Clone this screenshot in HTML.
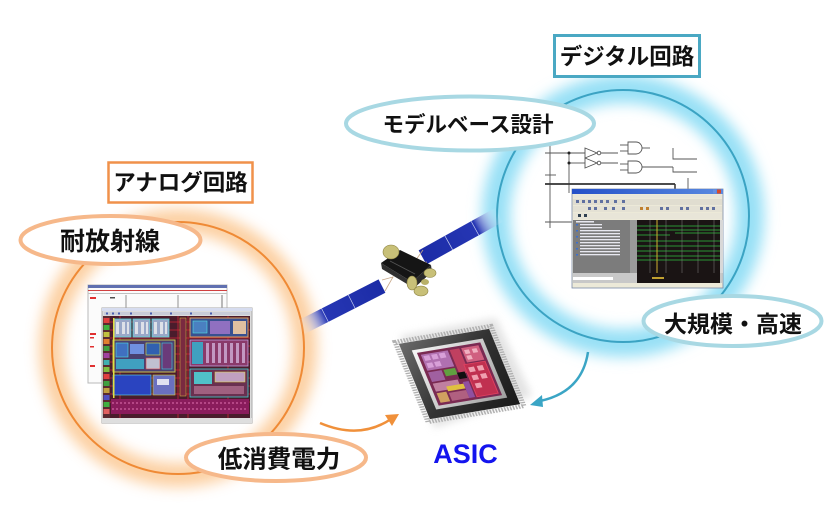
<!DOCTYPE html>
<html><head><meta charset="utf-8">
<style>
html,body{margin:0;padding:0;background:#fff;}
body{width:839px;height:517px;overflow:hidden;}
svg{display:block;}
.jp{font-family:"Liberation Sans","Noto Sans CJK JP",sans-serif;font-weight:700;fill:#111;}
</style></head>
<body>
<svg width="839" height="517" viewBox="0 0 839 517" xmlns="http://www.w3.org/2000/svg">
<defs>
  <filter id="blurO" x="-30%" y="-30%" width="160%" height="160%"><feGaussianBlur stdDeviation="7"/></filter>
  <filter id="blurC" x="-30%" y="-30%" width="160%" height="160%"><feGaussianBlur stdDeviation="7"/></filter>
  <filter id="blurS" x="-30%" y="-30%" width="160%" height="160%"><feGaussianBlur stdDeviation="4"/></filter>
  <linearGradient id="panL" x1="0" y1="0" x2="1" y2="0">
    <stop offset="0" stop-color="#ffffff" stop-opacity="0"/>
    <stop offset="0.3" stop-color="#2636b4"/>
    <stop offset="1" stop-color="#1c2ca6"/>
  </linearGradient>
  <linearGradient id="panR" x1="0" y1="0" x2="1" y2="0">
    <stop offset="0" stop-color="#1c2ca6"/>
    <stop offset="0.7" stop-color="#2636b4"/>
    <stop offset="1" stop-color="#ffffff" stop-opacity="0"/>
  </linearGradient>
  <linearGradient id="chipBody" x1="0" y1="0" x2="1" y2="1">
    <stop offset="0" stop-color="#6a6a6a"/>
    <stop offset="0.5" stop-color="#333"/>
    <stop offset="1" stop-color="#1a1a1a"/>
  </linearGradient>
  <linearGradient id="bevel" x1="0" y1="0" x2="1" y2="1">
    <stop offset="0" stop-color="#f6f6f6"/>
    <stop offset="1" stop-color="#a0a0a0"/>
  </linearGradient>
  <linearGradient id="title" x1="0" y1="0" x2="1" y2="0">
    <stop offset="0" stop-color="#2450c8"/>
    <stop offset="1" stop-color="#5a8ae0"/>
  </linearGradient>
</defs>

<!-- ===== Orange circle (analog) ===== -->
<circle cx="178" cy="348" r="127" fill="none" stroke="#fccb98" stroke-width="24" filter="url(#blurO)" opacity="0.9"/>
<circle cx="178" cy="348" r="126" fill="none" stroke="#ef8a35" stroke-width="2"/>

<!-- ===== Cyan circle (digital) ===== -->
<circle cx="623" cy="216" r="127" fill="none" stroke="#97e0f6" stroke-width="28" filter="url(#blurC)"/>
<circle cx="623" cy="216" r="126" fill="none" stroke="#3ba3c3" stroke-width="2"/>

<!-- ===== Analog layout screenshots ===== -->
<g>
  <rect x="88" y="285" width="139" height="98" fill="#fbfbfb" stroke="#b8b8b8" stroke-width="1"/>
  <rect x="88" y="285" width="139" height="3" fill="#6070b0"/>
  <rect x="88" y="290" width="139" height="1" fill="#d04040"/>
  <rect x="88" y="293" width="139" height="1" fill="#c0c0c0"/>
  <rect x="90" y="297" width="6" height="2" fill="#e03030"/>
  <rect x="110" y="297" width="5" height="1.5" fill="#505050"/>
  <line x1="126" y1="295" x2="126" y2="308" stroke="#777" stroke-width="0.8"/>
  <line x1="178" y1="295" x2="178" y2="308" stroke="#777" stroke-width="0.8"/>
  <line x1="222" y1="295" x2="222" y2="312" stroke="#777" stroke-width="1"/>
  <rect x="90" y="333" width="6" height="2" fill="#e03030"/>
  <rect x="90" y="337" width="4" height="1.5" fill="#e03030"/>
  <rect x="90" y="346" width="4" height="1.5" fill="#e03030"/>
  <rect x="90" y="365" width="5" height="2" fill="#e03030"/>
  <rect x="102" y="308" width="150" height="115" fill="#dcdcdc" stroke="#a8a8a8" stroke-width="1"/>
  <rect x="102" y="308" width="150" height="3" fill="#d6dcef"/>
  <rect x="104" y="312" width="146" height="3" fill="#c8ccd8"/>
  <g fill="#4a60b0"><rect x="106" y="312.5" width="2" height="2"/><rect x="112" y="312.5" width="2" height="2"/><rect x="118" y="312.5" width="2" height="2"/><rect x="130" y="312.5" width="2" height="2"/><rect x="150" y="312.5" width="2" height="2"/><rect x="170" y="312.5" width="2" height="2"/><rect x="190" y="312.5" width="2" height="2"/><rect x="210" y="312.5" width="2" height="2"/></g>
  <rect x="103" y="316" width="7" height="102" fill="#5a2a30"/>
  <g>
    <rect x="103.5" y="318" width="6" height="5" fill="#e04040"/>
    <rect x="103.5" y="325" width="6" height="5" fill="#40b040"/>
    <rect x="103.5" y="332" width="6" height="5" fill="#c0c040"/>
    <rect x="103.5" y="339" width="6" height="5" fill="#e08030"/>
    <rect x="103.5" y="346" width="6" height="5" fill="#40a040"/>
    <rect x="103.5" y="353" width="6" height="5" fill="#a040a0"/>
    <rect x="103.5" y="360" width="6" height="5" fill="#40b0b0"/>
    <rect x="103.5" y="367" width="6" height="5" fill="#80c040"/>
    <rect x="103.5" y="374" width="6" height="5" fill="#e04040"/>
    <rect x="103.5" y="381" width="6" height="5" fill="#40a040"/>
    <rect x="103.5" y="388" width="6" height="5" fill="#c0a040"/>
    <rect x="103.5" y="395" width="6" height="5" fill="#5050c0"/>
    <rect x="103.5" y="402" width="6" height="5" fill="#40b040"/>
    <rect x="103.5" y="409" width="6" height="5" fill="#e06060"/>
  </g>
  <rect x="110" y="316" width="140" height="102" fill="#4a1c2c"/>
  <g stroke="#e02838" stroke-width="0.8" opacity="0.85">
    <line x1="110" y1="322" x2="250" y2="322"/><line x1="110" y1="330" x2="250" y2="330"/>
    <line x1="110" y1="338" x2="250" y2="338"/><line x1="110" y1="346" x2="250" y2="346"/>
    <line x1="110" y1="354" x2="250" y2="354"/><line x1="110" y1="362" x2="250" y2="362"/>
    <line x1="110" y1="370" x2="250" y2="370"/><line x1="110" y1="378" x2="250" y2="378"/>
    <line x1="110" y1="386" x2="250" y2="386"/><line x1="110" y1="394" x2="250" y2="394"/>
    <line x1="110" y1="402" x2="250" y2="402"/>
    <line x1="178" y1="316" x2="178" y2="418"/><line x1="188" y1="316" x2="188" y2="418"/>
    <line x1="120" y1="316" x2="120" y2="418"/><line x1="228" y1="316" x2="228" y2="418"/>
  </g>
  <g stroke="#50d8d8" stroke-width="0.8">
    <rect x="114" y="319" width="17" height="18" fill="#9aa8c8"/>
    <rect x="133" y="319" width="17" height="18" fill="#9aa8c8"/>
    <rect x="152" y="319" width="17" height="18" fill="#9aa8c8"/>
  </g>
  <g fill="#f0f0f0" opacity="0.8">
    <rect x="116" y="322" width="3" height="12"/><rect x="122" y="322" width="3" height="12"/><rect x="127" y="322" width="2" height="12"/>
    <rect x="135" y="322" width="3" height="12"/><rect x="141" y="322" width="3" height="12"/><rect x="146" y="322" width="2" height="12"/>
    <rect x="154" y="322" width="3" height="12"/><rect x="160" y="322" width="3" height="12"/><rect x="165" y="322" width="2" height="12"/>
  </g>
  <rect x="113" y="340" width="62" height="32" fill="#4a4070" stroke="#c8c050" stroke-width="1"/>
  <rect x="116" y="343" width="12" height="14" fill="#4070c0" stroke="#50e0e0" stroke-width="0.6"/>
  <rect x="130" y="344" width="14" height="10" fill="#7090e0"/>
  <rect x="146" y="343" width="14" height="12" fill="#3060b0" stroke="#e0e040" stroke-width="0.6"/>
  <rect x="162" y="343" width="10" height="26" fill="#6a3a7a" stroke="#40d0e0" stroke-width="0.6"/>
  <rect x="116" y="359" width="28" height="10" fill="#40a0c0"/>
  <rect x="146" y="358" width="14" height="11" fill="#c0c0d0" stroke="#e04040" stroke-width="0.6"/>
  <rect x="113" y="375" width="38" height="20" fill="#2a44c0" stroke="#60e0e0" stroke-width="0.6"/>
  <rect x="153" y="375" width="22" height="20" fill="#6a70c0" stroke="#d0d040" stroke-width="0.6"/>
  <rect x="157" y="379" width="12" height="6" fill="#e0e0f0"/>
  <rect x="113" y="318" width="1.5" height="80" fill="#e0e040"/>
  <rect x="190" y="318" width="58" height="19" fill="#385090" stroke="#e0a060" stroke-width="1"/>
  <rect x="210" y="321" width="20" height="13" fill="#9070c0"/>
  <rect x="193" y="321" width="14" height="12" fill="#4a80c0" stroke="#50e0e0" stroke-width="0.6"/>
  <rect x="233" y="321" width="13" height="13" fill="#e0c0a0"/>
  <rect x="190" y="340" width="58" height="26" fill="#8a3a6a" stroke="#c0a0e0" stroke-width="0.8"/>
  <g fill="#d0b0d8" opacity="0.8">
    <rect x="206" y="343" width="3" height="20"/><rect x="212" y="343" width="3" height="20"/><rect x="218" y="343" width="3" height="20"/><rect x="224" y="343" width="3" height="20"/><rect x="230" y="343" width="3" height="20"/><rect x="236" y="343" width="3" height="20"/><rect x="242" y="343" width="3" height="20"/>
  </g>
  <rect x="192" y="342" width="11" height="22" fill="#40a0c0"/>
  <rect x="190" y="369" width="58" height="28" fill="#6a3050" stroke="#40d0d0" stroke-width="0.8"/>
  <rect x="194" y="372" width="18" height="12" fill="#50c0c8"/>
  <rect x="215" y="372" width="30" height="10" fill="#c0a0c0" stroke="#e0e040" stroke-width="0.5"/>
  <rect x="194" y="386" width="50" height="8" fill="#a06080"/>
  <rect x="180" y="318" width="6" height="78" fill="#7a2a40" stroke="#e0c040" stroke-width="0.5"/>
  <rect x="111" y="399" width="138" height="15" fill="#8a1c5c"/>
  <g stroke="#e070b0" stroke-width="1" stroke-dasharray="2 2"><line x1="112" y1="403" x2="248" y2="403"/><line x1="112" y1="409" x2="248" y2="409"/></g>
  <rect x="102" y="418" width="150" height="5" fill="#dedede"/>
</g>

<!-- ===== Digital schematic ===== -->
<g stroke="#555" stroke-width="0.9" fill="none">
  <line x1="550" y1="146" x2="550" y2="228"/>
  <line x1="545" y1="153" x2="585" y2="153"/>
  <line x1="569" y1="153" x2="569" y2="193"/>
  <line x1="569" y1="163" x2="585" y2="163"/>
  <path d="M585,148 L597,153 L585,158 Z"/>
  <circle cx="599" cy="153" r="1.8"/>
  <path d="M585,158 L597,163 L585,168 Z"/>
  <circle cx="599" cy="163" r="1.8"/>
  <line x1="601" y1="153" x2="618" y2="153"/>
  <line x1="601" y1="163" x2="618" y2="163"/>
  <line x1="620" y1="145" x2="628" y2="145"/>
  <line x1="620" y1="151" x2="628" y2="151"/>
  <path d="M628,142 L636,142 A6,6 0 0 1 636,154 L628,154 Z"/>
  <line x1="642" y1="148" x2="650" y2="148"/>
  <line x1="620" y1="164" x2="628" y2="164"/>
  <line x1="620" y1="170" x2="628" y2="170"/>
  <path d="M628,161 L636,161 A6,6 0 0 1 636,173 L628,173 Z"/>
  <line x1="642" y1="167" x2="673" y2="167"/>
  <path d="M673,148 L673,159 L697,159"/>
  <path d="M673,167 L673,172 L697,172"/>
  <line x1="688" y1="178" x2="688" y2="190"/>
  <line x1="545" y1="222" x2="572" y2="222"/>
  <line x1="545" y1="175" x2="556" y2="175"/>
</g>
<line x1="545" y1="184" x2="675" y2="184" stroke="#333" stroke-width="1.8"/>
<line x1="675" y1="184" x2="675" y2="190" stroke="#333" stroke-width="1.5"/>
<circle cx="569" cy="153" r="1.5" fill="#222"/>
<circle cx="569" cy="163" r="1.5" fill="#222"/>

<!-- ===== Waveform window ===== -->
<g>
  <rect x="572" y="189" width="151" height="99" fill="#ece9d8" stroke="#7a8aa8" stroke-width="0.8"/>
  <rect x="572" y="189" width="151" height="5" fill="url(#title)"/>
  <rect x="713" y="189.5" width="3" height="4" fill="#6a90e0"/>
  <rect x="717" y="189.5" width="4" height="4" fill="#d84a2a"/>
  <rect x="573" y="195" width="149" height="3" fill="#e8e6da"/>
  <rect x="573" y="199" width="149" height="6" fill="#e0ddd0"/>
  <rect x="573" y="206" width="149" height="6" fill="#e4e1d4"/>
  <rect x="573" y="213" width="149" height="6" fill="#e8e5d8"/>
  <g fill="#6070a0">
    <rect x="576" y="200" width="3" height="3"/><rect x="582" y="200" width="3" height="3"/><rect x="588" y="200" width="3" height="3"/><rect x="594" y="200" width="3" height="3"/><rect x="600" y="200" width="3" height="3"/><rect x="606" y="200" width="3" height="3"/><rect x="614" y="200" width="3" height="3"/><rect x="622" y="200" width="3" height="3"/>
    <rect x="588" y="207" width="3" height="3"/><rect x="594" y="207" width="3" height="3"/><rect x="604" y="207" width="3" height="3"/><rect x="612" y="207" width="3" height="3"/><rect x="622" y="207" width="3" height="3"/><rect x="640" y="207" width="3" height="3" fill="#c08030"/><rect x="646" y="207" width="3" height="3" fill="#c08030"/><rect x="660" y="207" width="3" height="3"/><rect x="666" y="207" width="3" height="3"/><rect x="680" y="207" width="3" height="3"/><rect x="686" y="207" width="3" height="3"/><rect x="700" y="207" width="3" height="3"/><rect x="706" y="207" width="3" height="3"/><rect x="712" y="207" width="3" height="3"/>
    <rect x="578" y="214" width="3" height="3" fill="#304050"/><rect x="584" y="214" width="3" height="3" fill="#304050"/>
  </g>
  <rect x="573" y="220" width="57" height="53" fill="#7c7c7c"/>
  <g fill="#e8e8f0">
    <rect x="576" y="221" width="18" height="1.5"/>
    <rect x="580" y="224" width="22" height="1.3"/><rect x="580" y="227" width="22" height="1.3"/>
    <rect x="580" y="230" width="40" height="1.3"/><rect x="580" y="233" width="40" height="1.3"/>
    <rect x="580" y="236" width="40" height="1.3"/><rect x="580" y="239" width="40" height="1.3"/>
    <rect x="580" y="242" width="40" height="1.3"/><rect x="580" y="245" width="40" height="1.3"/>
    <rect x="580" y="248" width="40" height="1.3"/><rect x="580" y="251" width="40" height="1.3"/>
    <rect x="580" y="254" width="40" height="1.3"/>
  </g>
  <g fill="#3a70d0">
    <rect x="576" y="224" width="2" height="1.5"/><rect x="576" y="230" width="2" height="1.5"/><rect x="576" y="236" width="2" height="1.5"/><rect x="576" y="242" width="2" height="1.5"/><rect x="576" y="248" width="2" height="1.5"/><rect x="576" y="254" width="2" height="1.5"/>
  </g>
  <rect x="630" y="220" width="7" height="53" fill="#9a9a9a"/>
  <rect x="637" y="220" width="83" height="53" fill="#1a1414"/>
  <g stroke="#30c040" stroke-width="0.8">
    <line x1="637" y1="226" x2="720" y2="226"/>
    <line x1="637" y1="230" x2="720" y2="230"/>
    <line x1="637" y1="235" x2="670" y2="235"/><line x1="675" y1="233" x2="720" y2="233"/>
    <line x1="637" y1="241" x2="720" y2="241"/>
    <line x1="637" y1="246" x2="720" y2="246"/>
    <line x1="637" y1="251" x2="720" y2="251"/>
    <line x1="637" y1="256" x2="720" y2="256"/>
    <line x1="637" y1="260" x2="720" y2="260"/>
  </g>
  <g stroke="#808080" stroke-width="0.5">
    <line x1="650" y1="220" x2="650" y2="273"/><line x1="666" y1="220" x2="666" y2="273"/><line x1="682" y1="220" x2="682" y2="273"/><line x1="698" y1="220" x2="698" y2="273"/><line x1="714" y1="220" x2="714" y2="273"/>
  </g>
  <line x1="657" y1="220" x2="657" y2="275" stroke="#d0b030" stroke-width="1"/>
  <rect x="720" y="220" width="3" height="53" fill="#d8d8d8"/>
  <rect x="573" y="273" width="149" height="10" fill="#c8c8c8"/>
  <rect x="573" y="277" width="40" height="3" fill="#ffffff"/>
  <rect x="637" y="273" width="83" height="10" fill="#1a1414"/>
  <rect x="652" y="277" width="12" height="2" fill="#c0a030"/>
  <rect x="573" y="283" width="149" height="4" fill="#ece9d8"/>
</g>

<!-- ===== Satellite ===== -->
<g>
  <g transform="translate(341,307) rotate(-27)">
    <rect x="-46" y="-7.5" width="92" height="15" fill="url(#panL)"/>
    <line x1="-18" y1="-7.5" x2="-18" y2="7.5" stroke="#c8d0f0" stroke-width="0.7"/>
    <line x1="12" y1="-7.5" x2="12" y2="7.5" stroke="#c8d0f0" stroke-width="0.7"/>
  </g>
  <g transform="translate(461,236) rotate(-29)">
    <rect x="-44" y="-8" width="88" height="16" fill="url(#panR)"/>
    <line x1="-14" y1="-8" x2="-14" y2="8" stroke="#c8d0f0" stroke-width="0.7"/>
    <line x1="16" y1="-8" x2="16" y2="8" stroke="#c8d0f0" stroke-width="0.7"/>
  </g>
  <g stroke="#c8a888" stroke-width="0.8" fill="none">
    <path d="M382,280 L393,277 L385,291"/>
    <path d="M423,250 L413,264 L427,262"/>
  </g>
  <polygon points="381,263 400,250 431,265 412,282" fill="#151515"/>
  <polygon points="381,263 412,282 412,287 382,269" fill="#303030"/>
  <polygon points="412,282 431,265 432,272 413,289" fill="#2a2a2a"/>
  <line x1="390" y1="261" x2="415" y2="274" stroke="#555" stroke-width="0.8"/>
  <ellipse cx="391" cy="252" rx="8" ry="7" fill="#c8c078" stroke="#8a8040" stroke-width="0.6"/>
  <ellipse cx="430" cy="273" rx="6" ry="4.5" fill="#c8c078" stroke="#8a8040" stroke-width="0.6"/>
  <ellipse cx="412" cy="283" rx="5" ry="7" fill="#c8c078" stroke="#8a8040" stroke-width="0.6"/>
  <ellipse cx="421" cy="291" rx="7" ry="5" fill="#c8c078" stroke="#8a8040" stroke-width="0.6"/>
  <ellipse cx="425" cy="282" rx="4" ry="3" fill="#b8b068"/>
</g>

<!-- ===== Chip ===== -->
<g>
  <polygon points="400,336 496,318 532,396 434,428" fill="#d8d8d8" filter="url(#blurS)" opacity="0.7"/>
  <g transform="matrix(0.96,-0.16,0.33,0.80,395,342)">
    <rect x="0" y="0" width="100" height="100" fill="none" stroke="#b0b0b0" stroke-width="5" stroke-dasharray="1.6 1.4"/>
    <rect x="3" y="3" width="94" height="94" fill="url(#chipBody)"/>
    <rect x="13" y="13" width="74" height="74" fill="url(#bevel)"/>
    <rect x="17" y="17" width="66" height="66" fill="#7a2a52"/>
    <rect x="20" y="20" width="28" height="20" fill="#b070b0"/>
    <rect x="22" y="22" width="6" height="6" fill="#d8a0d8"/><rect x="30" y="22" width="6" height="6" fill="#d8a0d8"/><rect x="38" y="22" width="6" height="6" fill="#d8a0d8"/>
    <rect x="22" y="31" width="6" height="6" fill="#d8a0d8"/><rect x="30" y="31" width="6" height="6" fill="#d8a0d8"/>
    <rect x="50" y="20" width="10" height="30" fill="#c04060"/>
    <rect x="62" y="20" width="18" height="18" fill="#d06080"/>
    <rect x="64" y="23" width="5" height="5" fill="#f0b0c0"/><rect x="72" y="23" width="5" height="5" fill="#f0b0c0"/><rect x="64" y="30" width="5" height="5" fill="#f0b0c0"/>
    <rect x="20" y="42" width="14" height="12" fill="#a060a0"/>
    <rect x="36" y="42" width="12" height="8" fill="#60a040"/>
    <rect x="48" y="48" width="8" height="8" fill="#101010"/>
    <rect x="20" y="56" width="26" height="10" fill="#c080a0"/>
    <rect x="20" y="68" width="10" height="12" fill="#d0a060"/>
    <rect x="32" y="62" width="18" height="6" fill="#e0c040"/>
    <rect x="32" y="70" width="18" height="10" fill="#b06080"/>
    <rect x="58" y="40" width="22" height="40" fill="#c03050" stroke="#e04060" stroke-width="1"/>
    <rect x="61" y="44" width="6" height="6" fill="#f0a0b0"/><rect x="70" y="44" width="6" height="6" fill="#f0a0b0"/>
    <rect x="61" y="54" width="6" height="6" fill="#f0a0b0"/><rect x="70" y="54" width="6" height="6" fill="#f0a0b0"/>
    <rect x="61" y="64" width="6" height="6" fill="#f0a0b0"/>
    <rect x="50" y="60" width="6" height="20" fill="#9050a0"/>
  </g>
</g>

<!-- ===== Arrows ===== -->
<path d="M320,423 Q360,440 391,419" fill="none" stroke="#f0903a" stroke-width="2.5"/>
<polygon points="399,414 385,415 392,426" fill="#f0903a"/>
<path d="M588,352 Q582,392 540,401" fill="none" stroke="#3aa5c5" stroke-width="2.5"/>
<polygon points="530,405 542,395 543,407" fill="#3aa5c5"/>

<!-- ===== Label boxes ===== -->
<rect x="108.5" y="162.5" width="144" height="40" fill="#fff" stroke="#f0914a" stroke-width="2.5"/>
<text x="180.5" y="183" class="jp" font-size="22.5" text-anchor="middle" dominant-baseline="central">アナログ回路</text>
<rect x="554.5" y="35.5" width="145" height="41" fill="#fff" stroke="#4aa8c3" stroke-width="3"/>
<text x="627" y="57" class="jp" font-size="22.5" text-anchor="middle" dominant-baseline="central">デジタル回路</text>

<!-- ===== Ellipse labels ===== -->
<ellipse cx="110.5" cy="240" rx="90" ry="24" fill="#fff" stroke="#f6b88a" stroke-width="4"/>
<text x="110" y="242" class="jp" font-size="25" text-anchor="middle" dominant-baseline="central">耐放射線</text>

<ellipse cx="276" cy="457.5" rx="90" ry="23.5" fill="#fff" stroke="#f6b88a" stroke-width="4"/>
<text x="279" y="460" class="jp" font-size="24.5" text-anchor="middle" dominant-baseline="central">低消費電力</text>

<ellipse cx="470" cy="123.5" rx="124" ry="27" fill="#fff" stroke="#a8d8e3" stroke-width="4"/>
<text x="468" y="125" class="jp" font-size="21.5" text-anchor="middle" dominant-baseline="central">モデルベース設計</text>

<ellipse cx="732.5" cy="321" rx="89" ry="25" fill="#fff" stroke="#a8d8e3" stroke-width="4"/>
<text x="733" y="324" class="jp" font-size="23" text-anchor="middle" dominant-baseline="central">大規模・高速</text>

<!-- ===== ASIC ===== -->
<text x="465.5" y="463" font-family="'Liberation Sans', Arial, sans-serif" font-weight="700" font-size="27" fill="#1414ee" text-anchor="middle">ASIC</text>
</svg>
</body></html>
